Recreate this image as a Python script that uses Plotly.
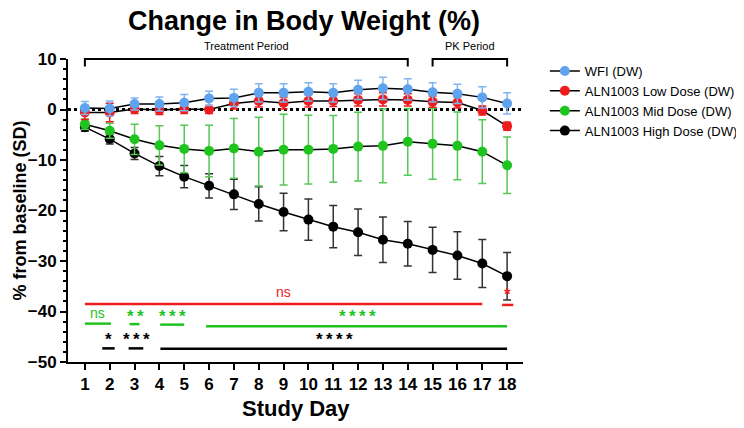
import plotly.graph_objects as go

days = list(range(1, 19))

wfi_mean = [0.3, 0.2, 1.1, 1.1, 1.35, 2.2, 2.3, 3.3, 3.3, 3.5, 3.3, 3.9, 4.2, 4.0, 3.4, 3.1, 2.4, 1.2]
wfi_sd = [1.3, 1.5, 1.2, 1.4, 1.6, 1.4, 1.7, 1.8, 1.8, 1.8, 1.8, 1.9, 2.2, 2.1, 1.9, 1.9, 2.1, 2.1]

low_mean = [-0.6, -0.6, 0.1, -0.1, 0.1, 0.0, 1.2, 1.7, 1.3, 1.7, 1.7, 1.9, 2.0, 1.9, 1.55, 1.4, -0.2, -3.3]
low_sd = [1.4, 1.85, 0.9, 0.9, 0.9, 0.8, 1.1, 1.2, 1.2, 1.2, 1.1, 1.2, 1.3, 1.2, 1.1, 1.1, 0.9, 0.8]

mid_mean = [-2.9, -4.2, -5.9, -7.1, -7.8, -8.2, -7.7, -8.35, -7.95, -7.95, -7.8, -7.35, -7.2, -6.4, -6.8, -7.2, -8.35, -11.05]
mid_sd = [1.0, 1.5, 3.0, 3.9, 4.7, 5.1, 5.9, 6.8, 7.0, 6.8, 6.6, 6.8, 7.3, 6.6, 7.0, 6.7, 6.3, 5.6]

high_mean = [-3.5, -5.85, -8.7, -11.2, -13.3, -15.1, -16.8, -18.7, -20.3, -21.8, -23.2, -24.3, -25.8, -26.6, -27.8, -28.9, -30.5, -33.0]
high_sd = [0.8, 1.0, 1.2, 1.9, 2.2, 2.4, 3.0, 3.4, 3.7, 4.1, 4.2, 4.6, 4.5, 4.4, 4.5, 4.7, 4.75, 4.7]

series_names = ["WFI (DW)", "ALN1003 Low Dose (DW)", "ALN1003 Mid Dose (DW)", "ALN1003 High Dose (DW)"]
series_colors = ["#5fa2ee", "#ee1c1c", "#1fc41f", "#000000"]
errbar_colors = ["#7fb6f0", "#ee1c1c", "#55c855", "#333333"]

# significance bars: (x0, x1, y, color)
sig_lines = [
    (1.0, 17.0, -38.5, "#ee1c1c"), (17.8, 18.25, -38.7, "#ee1c1c"),
    (1.0, 2.05, -42.4, "#1fc41f"), (2.8, 3.2, -42.5, "#1fc41f"),
    (4.03, 5.0, -42.6, "#1fc41f"), (5.88, 18.0, -42.9, "#1fc41f"),
    (1.7, 2.2, -47.3, "#000000"), (2.76, 3.35, -47.3, "#000000"),
    (4.04, 18.0, -47.4, "#000000"),
]
# significance labels: (x, y, text, color)
sig_texts = [
    (9.0, -36.2, "ns", "#ee1c1c"), (18.0, -36.6, "*", "#ee1c1c"),
    (1.5, -40.3, "ns", "#1fc41f"), (3.02, -40.9, "**", "#1fc41f"),
    (4.54, -40.9, "***", "#1fc41f"), (11.97, -40.9, "****", "#1fc41f"),
    (1.95, -45.6, "*", "#000000"), (3.06, -45.6, "***", "#000000"),
    (11.05, -45.6, "****", "#000000"),
]
# period brackets: (x0, x1, label)
periods = [(1, 14, "Treatment Period"), (15, 18, "PK Period")]

Y_MIN, Y_MAX = -50, 10
X_MIN, X_MAX = 0.32, 18.64


def ypaper(v):
    return (v - Y_MIN) / (Y_MAX - Y_MIN)


FONT = "Liberation Sans, Arial, sans-serif"
W, H = 736, 420  # page body adds an 8px margin

fig = go.Figure()
means = [wfi_mean, low_mean, mid_mean, high_mean]
sds = [wfi_sd, low_sd, mid_sd, high_sd]
for i in [3, 2, 1, 0]:
    fig.add_trace(go.Scatter(
        x=days, y=means[i], name=series_names[i], mode="lines+markers",
        line=dict(color="black", width=1.5),
        marker=dict(color=series_colors[i], size=10),
        error_y=dict(type="data", array=sds[i], visible=True, color=errbar_colors[i],
                     thickness=1.5, width=4),
        cliponaxis=False,
    ))

shapes = []
shapes.append(dict(type="line", xref="paper", yref="y", x0=0, x1=1, y0=0, y1=0,
                   line=dict(color="black", width=3, dash="dot"), layer="below"))
for x0, x1, y, c in sig_lines:
    shapes.append(dict(type="line", xref="x", yref="y", x0=x0, x1=x1, y0=y, y1=y,
                       line=dict(color=c, width=2.5)))
for x0, x1, label in periods:
    top = ypaper(10.0)
    bot = ypaper(8.5)
    shapes.append(dict(type="path", xref="x", yref="paper",
                       path=f"M {x0},{bot} L {x0},{top} L {x1},{top} L {x1},{bot}",
                       line=dict(color="black", width=2)))

annotations = []
for x, y, t, c in sig_texts:
    bold = "*" in t
    label = "\u2009".join(t) if bold else t
    annotations.append(dict(x=x, y=y, xref="x", yref="y", text=(f"<b>{label}</b>" if bold else label),
                            showarrow=False, yanchor="middle",
                            font=dict(family=FONT, size=(17 if bold else 14), color=c)))
for x0, x1, label in periods:
    annotations.append(dict(x=(x0 + x1) / 2, y=ypaper(12.6), xref="x", yref="paper", text=label,
                            showarrow=False, yanchor="middle",
                            font=dict(family=FONT, size=11, color="black")))
annotations.append(dict(x=-0.1055, y=0.5, xref="paper", yref="paper", text="<b>% from baseline (SD)</b>",
                        textangle=-90, showarrow=False, xanchor="center", yanchor="middle",
                        font=dict(family=FONT, size=18, color="black")))
annotations.append(dict(x=0.5, y=-0.155, xref="paper", yref="paper", text="<b>Study Day</b>",
                        showarrow=False, xanchor="center", yanchor="middle",
                        font=dict(family=FONT, size=22, color="black")))

fig.update_layout(
    width=W, height=H,
    margin=dict(l=60, r=221, t=51, b=66, autoexpand=False),
    paper_bgcolor="white", plot_bgcolor="white",
    title=dict(text="<b>Change in Body Weight (%)</b>", x=296 / W, xanchor="center",
               y=1 - 13 / H, yref="container", yanchor="middle", automargin=False,
               font=dict(family=FONT, size=27, color="black")),
    font=dict(family=FONT, color="black"),
    showlegend=True,
    legend=dict(x=1.048, y=1.01, xanchor="left", yanchor="top", traceorder="reversed",
                font=dict(family=FONT, size=13, color="black"), tracegroupgap=0),
    shapes=shapes, annotations=annotations,
    xaxis=dict(range=[X_MIN, X_MAX], tickvals=days, ticktext=[str(d) for d in days],
               automargin=False,
               showgrid=False, zeroline=False, showline=True, linecolor="black", linewidth=2,
               ticks="outside", ticklen=6, tickwidth=2, tickcolor="black",
               tickfont=dict(family=FONT, size=17, color="black", weight="bold")),
    yaxis=dict(range=[Y_MIN, Y_MAX], dtick=10, tick0=0, automargin=False,
               showgrid=False, zeroline=False, showline=True, linecolor="black", linewidth=2,
               ticks="outside", ticklen=6, tickwidth=2, tickcolor="black",
               tickfont=dict(family=FONT, size=17, color="black", weight="bold"),
               tickformat="d",
               minor=dict(dtick=2, ticks="outside", ticklen=3, tickwidth=1.5, tickcolor="black")),
)

fig.write_html("out.html")
